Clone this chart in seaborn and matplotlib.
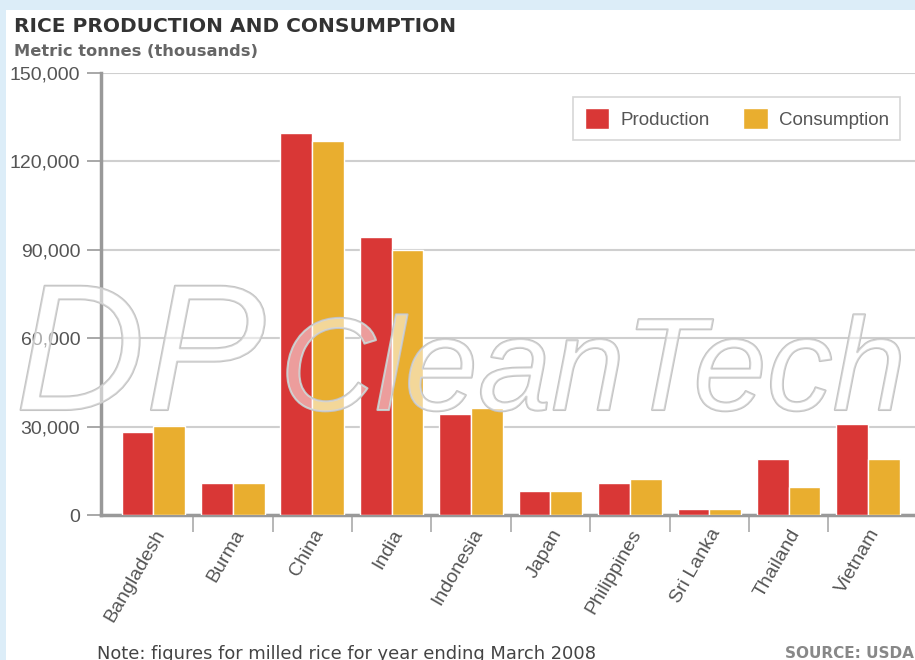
import pandas as pd
import matplotlib.pyplot as plt
import matplotlib.patheffects as pe
from matplotlib.ticker import FuncFormatter
import seaborn as sns

countries = ["Bangladesh", "Burma", "China", "India", "Indonesia",
             "Japan", "Philippines", "Sri Lanka", "Thailand", "Vietnam"]
production = [28300, 10800, 129700, 94200, 34300, 8100, 10800, 2000, 18900, 30900]
consumption = [30200, 10800, 127000, 89900, 36200, 8100, 12100, 2000, 9400, 18900]
series = ["Production", "Consumption"]
yticks = [0, 30000, 60000, 90000, 120000, 150000]

df = pd.DataFrame({
    "country": countries * 2,
    "value": production + consumption,
    "series": [series[0]] * len(countries) + [series[1]] * len(countries),
})

sns.set_style("white")
plt.rcParams["font.family"] = ["Liberation Sans", "DejaVu Sans"]

fig = plt.figure(figsize=(9.15, 6.6), dpi=100)
fig.patch.set_facecolor("#dcedf8")

# white panel behind everything
bg = fig.add_axes([6 / 915, 0, 1, 1 - 10 / 660], zorder=-10)
bg.set_axis_off()
bg.add_patch(plt.Rectangle((0, 0), 1, 1, facecolor="white", edgecolor="none",
                           transform=bg.transAxes))

ax = fig.add_axes([101 / 915, 1 - 515 / 660, 1 - 101 / 915, (515 - 73) / 660])
ax.set_facecolor("none")

sns.barplot(data=df, x="country", y="value", hue="series", ax=ax,
            palette=["#d93736", "#e9ae2f"], width=0.8,
            edgecolor="white", linewidth=1, saturation=1, zorder=3)

ax.set_ylim(0, 150000)
ax.set_xlim(-0.66, 9.59)
ax.set_yticks(yticks)
ax.yaxis.set_major_formatter(FuncFormatter(lambda v, p: f"{int(v):,}"))
ax.grid(axis="y", color="#cfcfcf", linewidth=1.5, zorder=0)
ax.set_axisbelow(True)

for s in ["top", "right"]:
    ax.spines[s].set_visible(False)
for s in ["left", "bottom"]:
    ax.spines[s].set_color("#999999")
    ax.spines[s].set_linewidth(2.5)

ax.tick_params(axis="y", length=10, width=1.2, color="#999999",
               labelsize=14, labelcolor="#555555", pad=5, left=True)
ax.tick_params(axis="x", which="major", length=0, labelsize=14,
               labelcolor="#555555", pad=8)
ax.set_xticks([i + 0.5 for i in range(len(countries) - 1)], minor=True)
ax.tick_params(axis="x", which="minor", length=12, width=1.2, color="#aaaaaa",
               bottom=True)
ax.set_xticks(range(len(countries)))
ax.set_xticklabels(countries, rotation=60, ha="right", rotation_mode="anchor")
ax.set_xlabel("")
ax.set_ylabel("")

leg = ax.legend(loc="upper right", bbox_to_anchor=(0.982, 0.946), ncol=2,
                frameon=True, fontsize=13.5, handlelength=1.3, handleheight=1.3,
                handletextpad=0.6, columnspacing=1.8, borderpad=0.6,
                borderaxespad=0, fancybox=False)
leg.get_frame().set_edgecolor("#cccccc")
leg.get_frame().set_linewidth(1.2)
for t in leg.get_texts():
    t.set_color("#555555")

# watermark
wm = [pe.withStroke(linewidth=1.5, foreground="#c4c4c4")]
fig.text(15 / 915, 1 - 410 / 660, "DP", fontsize=130, style="italic",
         color=(1, 1, 1, 0.3), va="baseline", zorder=5, path_effects=wm)
fig.text(280 / 915, 1 - 410 / 660, "CleanTech", fontsize=95, style="italic",
         color=(1, 1, 1, 0.3), va="baseline", zorder=5, path_effects=wm)

fig.text(14 / 915, 1 - 27 / 660, "RICE PRODUCTION AND CONSUMPTION",
         family="DejaVu Sans", fontweight="bold", fontsize=14.5,
         color="#333333", va="center")
fig.text(14 / 915, 1 - 52 / 660, "Metric tonnes (thousands)",
         family="DejaVu Sans", fontweight="bold", fontsize=11.7,
         color="#666666", va="center")
fig.text(97 / 915, 1 - 654 / 660,
         "Note: figures for milled rice for year ending March 2008",
         family="DejaVu Sans", fontsize=12.9, color="#444444", va="center")
fig.text(785 / 915, 1 - 654 / 660, "SOURCE: USDA",
         family="DejaVu Sans", fontsize=11, color="#888888", va="center",
         fontweight="bold")

fig.savefig("out.png", dpi=100)
